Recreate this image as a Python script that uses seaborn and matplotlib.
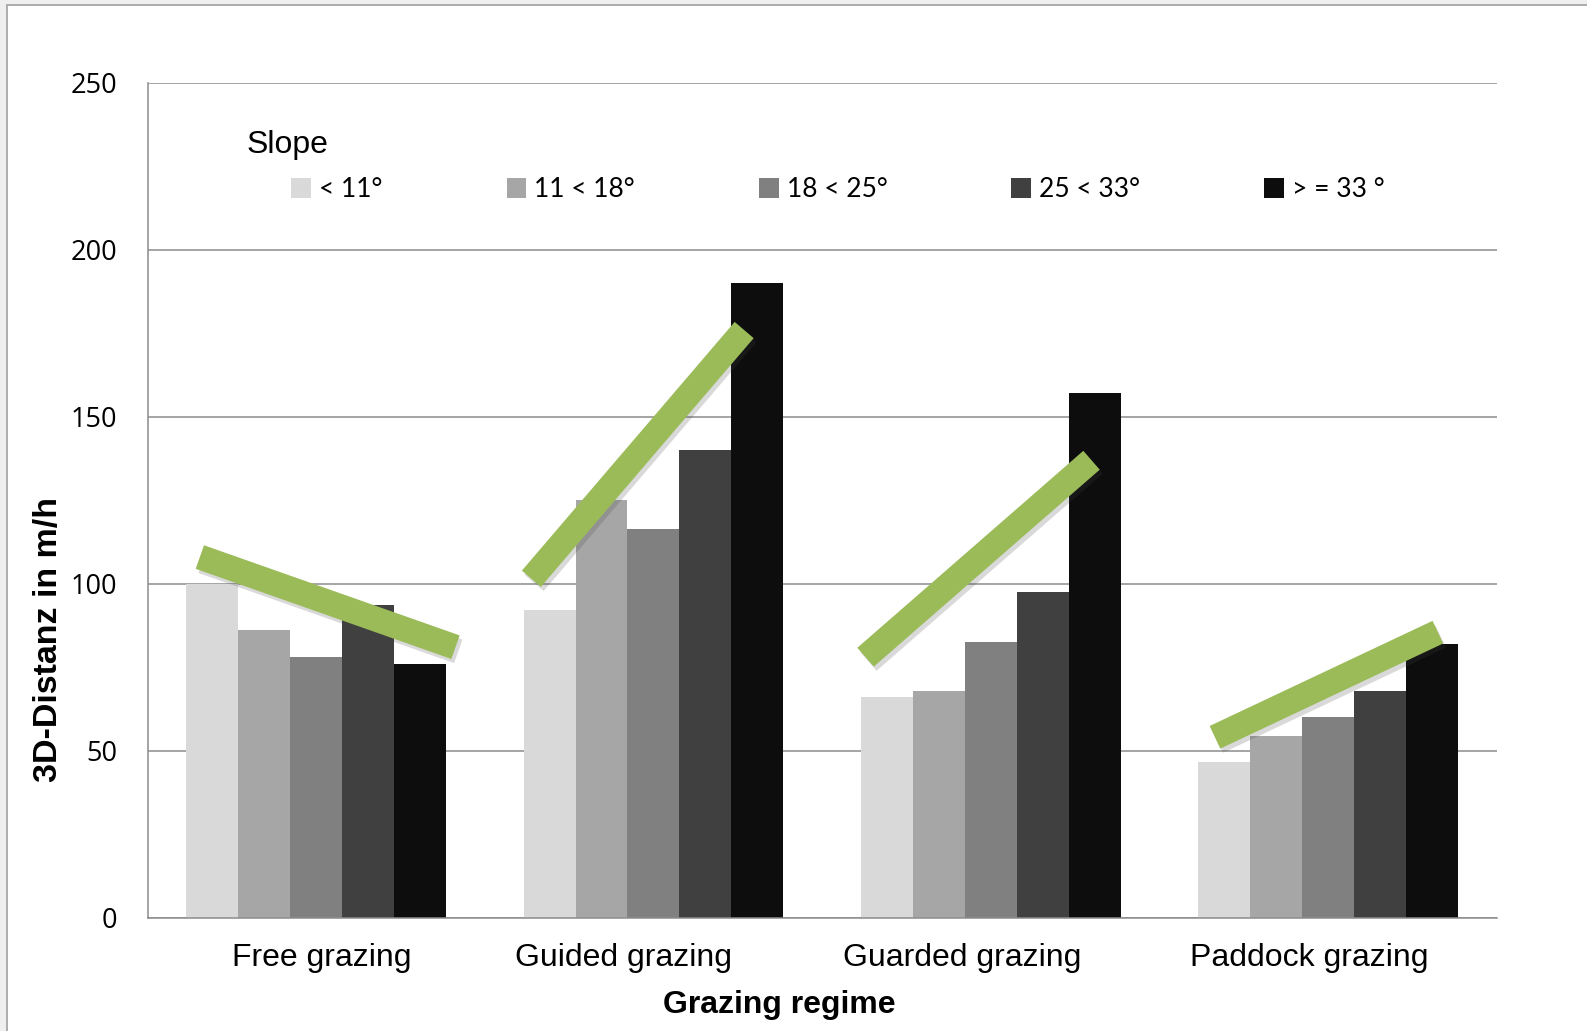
import pandas as pd
import matplotlib.pyplot as plt
import matplotlib.patheffects as pe
import matplotlib.transforms as mtransforms
from matplotlib.patches import Rectangle
import seaborn as sns

# values
regimes = ['Free grazing', 'Guided grazing', 'Guarded grazing', 'Paddock grazing']
slopes = ['< 11°', '11 < 18°', '18 < 25°', '25 < 33°', '> = 33 °']
slope_lt11 = [100, 92, 66, 46.5]
slope_11_18 = [86, 125, 68, 54.5]
slope_18_25 = [78, 116.5, 82.5, 60]
slope_25_33 = [93.5, 140, 97.5, 68]
slope_ge33 = [76, 190, 157, 82]
bar_colors = ['#D9D9D9', '#A6A6A6', '#808080', '#404040', '#0D0D0D']

# green trend strokes (start/end in category units and m/h)
trend_x0 = [-0.345, 0.638, 1.629, 2.665]
trend_y0 = [108, 101.5, 78, 54]
trend_x1 = [0.413, 1.269, 2.299, 3.326]
trend_y1 = [81, 176, 137, 85.5]

series = [slope_lt11, slope_11_18, slope_18_25, slope_25_33, slope_ge33]
rows = []
for s, vals in zip(slopes, series):
    for r, v in zip(regimes, vals):
        rows.append({'regime': r, 'slope': s, 'dist': v})
df = pd.DataFrame(rows)

sns.set_style('white')
plt.rcParams['font.family'] = ['Liberation Sans', 'DejaVu Sans']
plt.rcParams['text.color'] = 'black'
plt.rcParams['axes.labelcolor'] = 'black'
plt.rcParams['xtick.color'] = 'black'
plt.rcParams['ytick.color'] = 'black'

fig = plt.figure(figsize=(15.87, 10.31), dpi=100, facecolor='#EFEFEF')
fig.patches.append(Rectangle((0.0045, -0.01), 1.01, 1.005, transform=fig.transFigure,
                             facecolor='white', edgecolor='#A0A0A0', lw=1.2, zorder=-1))
ax = fig.add_axes([0.093, 0.110, 0.850, 0.8095])
ax.set_facecolor('none')

sns.barplot(data=df, x='regime', y='dist', hue='slope', palette=bar_colors,
            width=0.77, gap=0, saturation=1, ax=ax, edgecolor='none')

for x0, y0, x1, y1 in zip(trend_x0, trend_y0, trend_x1, trend_y1):
    ax.plot([x0, x1], [y0, y1], color='#9BBB59', lw=18, solid_capstyle='butt', zorder=5,
            path_effects=[pe.SimpleLineShadow(offset=(2, -3), alpha=0.2, shadow_color='#444444'),
                          pe.Normal()])

ax.set_ylim(0, 250)
ax.set_xlim(-0.5, 3.5)
ax.set_yticks([0, 50, 100, 150, 200, 250])
ax.yaxis.grid(True, color='#8C8C8C', lw=1.1)
ax.set_axisbelow(True)
for side in ['top', 'right']:
    ax.spines[side].set_visible(False)
for side in ['left', 'bottom']:
    ax.spines[side].set_color('#8C8C8C')
    ax.spines[side].set_linewidth(1.1)

ax.set_xticks([-0.5, 0.5, 1.5, 2.5, 3.5], minor=True)
ax.tick_params(axis='x', which='major', length=0, pad=18, labelsize=23)
ax.tick_params(axis='x', which='minor', length=7, color='#8C8C8C', width=1.1, direction='out')
ax.tick_params(axis='y', length=7, color='#8C8C8C', width=1.1, direction='out', pad=15, labelsize=19.5)
for lab in ax.get_yticklabels():
    lab.set_fontfamily('Open Sans')

# Excel placed the category labels a bit off-centre
label_shift = [6, -30, -28, -19]
for lab, dx in zip(ax.get_xticklabels(), label_shift):
    lab.set_transform(lab.get_transform() + mtransforms.ScaledTranslation(dx / 100, 0, fig.dpi_scale_trans))

ax.set_xlabel('Grazing regime', fontsize=23, fontweight='bold')
ax.xaxis.set_label_coords(0.468, -0.087)
ax.set_ylabel('3D-Distanz in m/h', fontsize=24.5, fontweight='bold')
ax.yaxis.set_label_coords(-0.062, 0.333)

ax.text(0.073, 0.926, 'Slope', transform=ax.transAxes, fontsize=23, va='center', ha='left')
leg = ax.legend(loc='center left', bbox_to_anchor=(0.089, 0.872), ncol=5, frameon=False,
                handlelength=0.75, handleheight=0.75, handletextpad=0.3, columnspacing=4.7,
                prop={'family': 'Lato', 'size': 19})

fig.savefig('out.png', dpi=100, facecolor=fig.get_facecolor())
